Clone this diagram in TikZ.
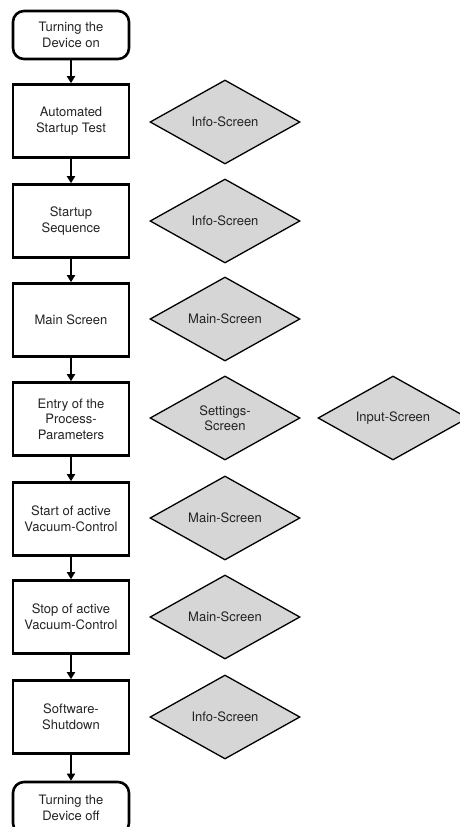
\documentclass[tikz,border=0pt]{standalone}
\usepackage{fontspec}
\setmainfont{TeX Gyre Heros}
\usepackage{xcolor}
\usetikzlibrary{
	arrows.meta,
	shapes.geometric
}
\definecolor{screenGray}{RGB}{214,214,214}
\definecolor{textGray}{RGB}{35,35,35}
\tikzset{every path/.append style={>={Triangle[length=7pt,width=8pt]}}}
\tikzset{
	stepbox/.style={draw,line width=2.6pt,minimum width=116pt,minimum height=73pt,
		align=center,text=textGray,font=\fontsize{13}{15.5}\selectfont},
	termbox/.style={stepbox,rounded corners=11pt,minimum height=48pt},
	screen/.style={diamond,draw,line width=1.3pt,fill=screenGray,inner sep=0pt,
		minimum width=150pt,minimum height=84pt,aspect=1.8,
		align=center,text=textGray,font=\fontsize{13}{15}\selectfont},
	flow/.style={->,line width=2pt}
}

\begin{document}
\begin{tikzpicture}[x=1pt,y=-1pt]
	\useasboundingbox (0,0) rectangle (459,827);

	% main sequence
	\node (on) at (71,35) [termbox]{Turning the\\Device on};
	\node (ast) at (71,121) [stepbox]{Automated\\Startup Test};
	\node (seq) at (71,221) [stepbox]{Startup\\Sequence};
	\node (main) at (71,320) [stepbox]{Main Screen};
	\node (entry) at (71,419) [stepbox]{Entry of the\\Process-\\Parameters};
	\node (startvc) at (71,519) [stepbox]{Start of active\\Vacuum-Control};
	\node (stopvc) at (71,617) [stepbox]{Stop of active\\Vacuum-Control};
	\node (shut) at (71,717) [stepbox]{Software-\\Shutdown};
	\node (off) at (71,808) [termbox,minimum height=52pt]{Turning the\\Device off};

	% screens
	\node (astScr) at (225,122) [screen]{Info-Screen};
	\node (seqScr) at (225,221) [screen]{Info-Screen};
	\node (mainScr) at (225,319) [screen]{Main-Screen};
	\node (entryScr) at (225,418) [screen]{Settings-\\Screen};
	\node (inputScr) at (393,418) [screen]{Input-Screen};
	\node (startScr) at (225,518) [screen]{Main-Screen};
	\node (stopScr) at (225,617) [screen]{Main-Screen};
	\node (shutScr) at (225,717) [screen]{Info-Screen};

	\draw[flow] (on) -- (ast);
	\draw[flow] (ast) -- (seq);
	\draw[flow] (seq) -- (main);
	\draw[flow] (main) -- (entry);
	\draw[flow] (entry) -- (startvc);
	\draw[flow] (startvc) -- (stopvc);
	\draw[flow] (stopvc) -- (shut);
	\draw[flow] (shut) -- (off);
\end{tikzpicture}
\end{document}
